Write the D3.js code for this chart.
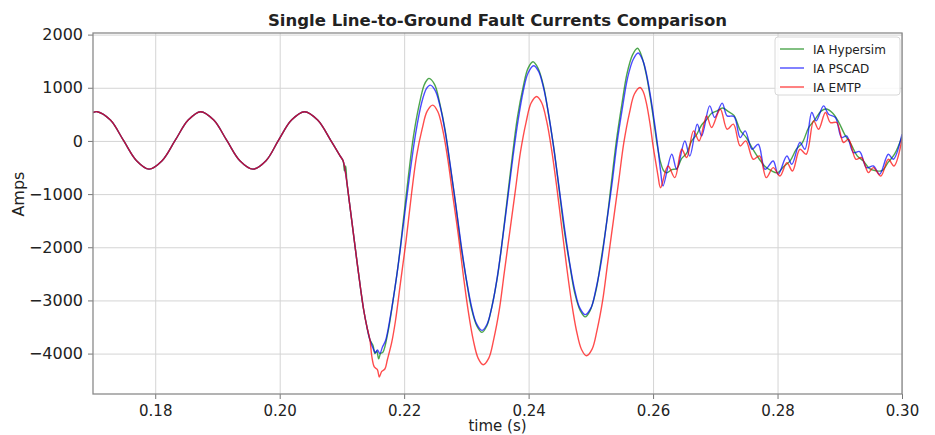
<!DOCTYPE html>
<html>
<head>
<meta charset="utf-8">
<script src="https://cdn.jsdelivr.net/npm/d3@7"></script>
<style>
  body { margin: 0; background: #fff; }
  svg text { font-family: "DejaVu Sans", sans-serif; fill: #222; }
</style>
</head>
<body>
<svg id="chart" width="935" height="435"></svg>
<script>
// values: [time (s), current (A)]
var preFault = [
  [0.1700, 532], [0.1707, 550], [0.1728, 392], [0.1749, 10], [0.1770, -372], [0.1790, -530],
  [0.1811, -372], [0.1832, 10], [0.1853, 392], [0.1873, 550], [0.1894, 392], [0.1915, 10],
  [0.1936, -372], [0.1957, -530], [0.1978, -372], [0.1998, 10], [0.2019, 392], [0.2040, 550],
  [0.2061, 392], [0.2082, 10], [0.2097, -280], [0.2102, -377]
];

var hypersim = [
  [0.2104, -560], [0.2106, -470], [0.2108, -780], [0.2112, -1150], [0.2118, -1700], [0.2124, -2250],
  [0.2130, -2780], [0.2135, -3180], [0.2140, -3490], [0.2145, -3740],
  [0.2150, -3850], [0.2153, -4000], [0.2156, -3950], [0.2159, -4100], [0.2162, -4000], [0.2166, -3971],
  [0.2174, -3596], [0.2182, -3013], [0.2191, -2277], [0.2199, -1462], [0.2207, -647], [0.2215, 89],
  [0.2224, 672], [0.2232, 1047], [0.2237, 1150], [0.2240, 1176],
  [0.2249, 1059], [0.2257, 720], [0.2266, 192], [0.2274, -474], [0.2283, -1212], [0.2291, -1950],
  [0.2300, -2616], [0.2308, -3144], [0.2317, -3483], [0.2325, -3600],
  [0.2333, -3476], [0.2341, -3115], [0.2350, -2553], [0.2358, -1842], [0.2366, -1056], [0.2374, -270],
  [0.2382, 441], [0.2391, 1003], [0.2399, 1364], [0.2407, 1489],
  [0.2415, 1371], [0.2424, 1031], [0.2432, 500], [0.2441, -169], [0.2449, -911], [0.2457, -1653],
  [0.2466, -2322], [0.2474, -2853], [0.2483, -3193], [0.2491, -3310],
  [0.2499, -3186], [0.2508, -2828], [0.2516, -2269], [0.2525, -1565], [0.2533, -784], [0.2541, -3],
  [0.2550, 701], [0.2558, 1260], [0.2567, 1618], [0.2575, 1742],
  [0.2582, 1580], [0.2589, 1250], [0.2596, 780], [0.2602, 300], [0.2607, -100], [0.2612, -400],
  [0.2617, -560], [0.2622, -600], [0.2630, -540], [0.2638, -520], [0.2646, -330], [0.2654, -230],
  [0.2662, 0], [0.2670, 120], [0.2678, 300], [0.2686, 400], [0.2694, 520], [0.2702, 560],
  [0.2712, 620], [0.2720, 560], [0.2730, 480], [0.2740, 200], [0.2750, 60], [0.2760, -150],
  [0.2770, -330], [0.2780, -480], [0.2790, -560], [0.2800, -600], [0.2810, -480], [0.2820, -380],
  [0.2830, -160], [0.2840, -30], [0.2850, 250], [0.2860, 400], [0.2870, 560], [0.2878, 600],
  [0.2888, 530], [0.2898, 360], [0.2908, 120], [0.2918, -60], [0.2928, -280], [0.2938, -380],
  [0.2948, -520], [0.2958, -560], [0.2968, -560], [0.2978, -400], [0.2988, -250], [0.3000, 80]
];

var pscad = [
  [0.2107, -700], [0.2112, -1150], [0.2118, -1700], [0.2124, -2250], [0.2130, -2780], [0.2135, -3180],
  [0.2140, -3490], [0.2145, -3740],
  [0.2150, -3900], [0.2154, -3985], [0.2157, -3930], [0.2161, -4000], [0.2165, -3880], [0.2170, -3760],
  [0.2178, -3291], [0.2188, -2542], [0.2198, -1643], [0.2208, -724], [0.2218, 106], [0.2228, 714],
  [0.2236, 987], [0.2242, 1050],
  [0.2250, 946], [0.2258, 639], [0.2266, 164], [0.2274, -445], [0.2283, -1213], [0.2292, -1986],
  [0.2300, -2607], [0.2308, -3103], [0.2316, -3432], [0.2325, -3563],
  [0.2333, -3452], [0.2341, -3121], [0.2349, -2608], [0.2357, -1951], [0.2366, -1122], [0.2375, -288],
  [0.2383, 381], [0.2391, 916], [0.2399, 1272], [0.2408, 1414],
  [0.2416, 1309], [0.2424, 997], [0.2432, 515], [0.2440, -103], [0.2449, -883], [0.2458, -1667],
  [0.2466, -2296], [0.2474, -2800], [0.2482, -3135], [0.2491, -3267],
  [0.2500, -3146], [0.2508, -2797], [0.2517, -2253], [0.2525, -1567], [0.2534, -807], [0.2542, -47],
  [0.2551, 639], [0.2559, 1183], [0.2568, 1532], [0.2576, 1653],
  [0.2584, 1500], [0.2590, 1225], [0.2597, 760], [0.2603, 283], [0.2608, -150], [0.2612, -560],
  [0.2616, -848], [0.2630, -251], [0.2638, -533], [0.2651, 0], [0.2659, -283], [0.2671, 315],
  [0.2678, 94], [0.2691, 660], [0.2699, 441], [0.2711, 711], [0.2719, 471], [0.2730, 460],
  [0.2740, 63], [0.2748, 189], [0.2759, -156], [0.2769, -62], [0.2780, -533], [0.2793, -377],
  [0.2801, -628], [0.2815, -283], [0.2823, -440], [0.2836, -30], [0.2844, -156], [0.2855, 535],
  [0.2862, 377], [0.2874, 660], [0.2882, 503], [0.2893, 441], [0.2903, 63], [0.2911, 94],
  [0.2922, -219], [0.2932, -200], [0.2943, -502], [0.2954, -471], [0.2964, -628], [0.2978, -251],
  [0.2986, -345], [0.3000, 126]
];

var emtp = [
  [0.2107, -700], [0.2112, -1150], [0.2118, -1700], [0.2124, -2250], [0.2130, -2780], [0.2135, -3180],
  [0.2140, -3490], [0.2145, -3740],
  [0.2148, -4050], [0.2152, -4250], [0.2157, -4300], [0.2160, -4440], [0.2164, -4335], [0.2169, -4290],
  [0.2173, -4115], [0.2180, -3790], [0.2186, -3387], [0.2194, -2674], [0.2203, -1884], [0.2212, -980],
  [0.2220, -280], [0.2229, 230], [0.2237, 560], [0.2246, 673],
  [0.2254, 553], [0.2262, 207], [0.2270, -333], [0.2278, -1014], [0.2287, -1768], [0.2295, -2522],
  [0.2303, -3203], [0.2311, -3743], [0.2319, -4089], [0.2327, -4209],
  [0.2336, -4085], [0.2344, -3727], [0.2353, -3170], [0.2361, -2466], [0.2370, -1686], [0.2379, -906],
  [0.2387, -203], [0.2396, 355], [0.2404, 713], [0.2413, 837],
  [0.2421, 718], [0.2429, 371], [0.2437, -168], [0.2445, -848], [0.2453, -1602], [0.2461, -2356],
  [0.2469, -3036], [0.2477, -3575], [0.2485, -3922], [0.2493, -4040],
  [0.2502, -3916], [0.2510, -3558], [0.2519, -3001], [0.2527, -2297], [0.2536, -1517], [0.2545, -737],
  [0.2553, -34], [0.2562, 524], [0.2570, 882], [0.2579, 1006],
  [0.2584, 930], [0.2589, 724], [0.2595, 330], [0.2600, -94], [0.2605, -450], [0.2608, -660],
  [0.2612, -880], [0.2624, -471], [0.2635, -690], [0.2646, -156], [0.2654, -313], [0.2665, 189],
  [0.2674, 0], [0.2686, 471], [0.2694, 252], [0.2708, 597], [0.2719, 220], [0.2729, 315],
  [0.2740, -94], [0.2749, 0], [0.2761, -345], [0.2771, -283], [0.2782, -690], [0.2793, -502],
  [0.2804, -660], [0.2815, -408], [0.2824, -565], [0.2836, -156], [0.2846, -251], [0.2858, 377],
  [0.2866, 220], [0.2877, 535], [0.2885, 346], [0.2895, 346], [0.2906, -30], [0.2914, 32],
  [0.2926, -345], [0.2935, -313], [0.2946, -596], [0.2954, -502], [0.2966, -660], [0.2978, -345],
  [0.2987, -471], [0.3000, 32]
];

var seriesNames = ["IA Hypersim", "IA PSCAD", "IA EMTP"];
var seriesColors = ["#008000", "#0000ff", "#ff0000"];
var xTicks = [0.18, 0.20, 0.22, 0.24, 0.26, 0.28, 0.30];
var yTicks = [-4000, -3000, -2000, -1000, 0, 1000, 2000];

var margin = {top: 33, right: 33, bottom: 41, left: 93};
var width = 935 - margin.left - margin.right,
    height = 435 - margin.top - margin.bottom;

var svg = d3.select("#chart");
var g = svg.append("g").attr("transform", "translate(" + margin.left + "," + margin.top + ")");

var x = d3.scaleLinear().domain([0.17, 0.30]).range([0, width]);
var y = d3.scaleLinear().domain([-4760, 2030]).range([height, 0]);

// grid
g.append("g")
  .attr("class", "grid")
  .attr("transform", "translate(0," + height + ")")
  .call(d3.axisBottom(x).tickValues(xTicks).tickSize(-height).tickFormat(""))
  .call(s => s.select(".domain").remove());
g.append("g")
  .attr("class", "grid")
  .call(d3.axisLeft(y).tickValues(yTicks).tickSize(-width).tickFormat(""))
  .call(s => s.select(".domain").remove());
g.selectAll(".grid line").attr("stroke", "#d4d4d4").attr("stroke-width", 1);

// lines
var line = d3.line()
    .x(d => x(d[0]))
    .y(d => y(d[1]))
    .curve(d3.curveCatmullRom.alpha(0.5));

var allSeries = [preFault.concat(hypersim), preFault.concat(pscad), preFault.concat(emtp)];

g.append("defs").append("clipPath").attr("id", "clip")
  .append("rect").attr("width", width).attr("height", height);

g.append("g")
  .attr("clip-path", "url(#clip)")
  .selectAll("path")
  .data(allSeries)
  .enter()
  .append("path")
    .attr("fill", "none")
    .attr("stroke", (d, i) => seriesColors[i])
    .attr("stroke-opacity", 0.7)
    .attr("stroke-width", 1.4)
    .attr("d", line);

// axes
var xAxis = g.append("g")
  .attr("transform", "translate(0," + height + ")")
  .call(d3.axisBottom(x).tickValues(xTicks).tickSize(5).tickPadding(6).tickFormat(d3.format(".2f")));
var yAxis = g.append("g")
  .call(d3.axisLeft(y).tickValues(yTicks).tickSize(5).tickPadding(5).tickFormat(d3.format("d")));
xAxis.selectAll("text").attr("font-size", 15).attr("font-family", "DejaVu Sans");
yAxis.selectAll("text").attr("font-size", 16).attr("font-family", "DejaVu Sans");
xAxis.select(".domain").remove();
yAxis.select(".domain").remove();
svg.selectAll(".tick line").filter(function() { return !this.parentNode.parentNode.classList.contains("grid"); })
  .attr("stroke", "#777");

// frame
g.append("rect")
  .attr("width", width)
  .attr("height", height)
  .attr("fill", "none")
  .attr("stroke", "#8a8a8a")
  .attr("stroke-width", 1.3);

// labels
svg.append("text")
  .attr("x", margin.left + width / 2)
  .attr("y", 26)
  .attr("text-anchor", "middle")
  .attr("font-size", 16.5)
  .attr("font-weight", "bold")
  .text("Single Line-to-Ground Fault Currents Comparison");

svg.append("text")
  .attr("x", margin.left + width / 2)
  .attr("y", 431)
  .attr("text-anchor", "middle")
  .attr("font-size", 15)
  .text("time (s)");

svg.append("text")
  .attr("transform", "translate(24," + (margin.top + y(-1000)) + ") rotate(-90)")
  .attr("text-anchor", "middle")
  .attr("font-size", 16)
  .text("Amps");

// legend
var legend = g.append("g").attr("transform", "translate(" + (width - 127) + ",4)");
legend.append("rect")
  .attr("width", 125)
  .attr("height", 58)
  .attr("rx", 3)
  .attr("fill", "#fff")
  .attr("fill-opacity", 0.85)
  .attr("stroke", "#d8d8d8");
var items = legend.selectAll(".item")
  .data(seriesNames)
  .enter().append("g")
    .attr("transform", (d, i) => "translate(0," + (12 + i * 19) + ")");
items.append("line")
  .attr("x1", 5).attr("x2", 29)
  .attr("stroke", (d, i) => seriesColors[i])
  .attr("stroke-opacity", 0.7)
  .attr("stroke-width", 1.4);
items.append("text")
  .attr("x", 38)
  .attr("y", 4.5)
  .attr("font-size", 12)
  .text(d => d);
</script>
</body>
</html>
